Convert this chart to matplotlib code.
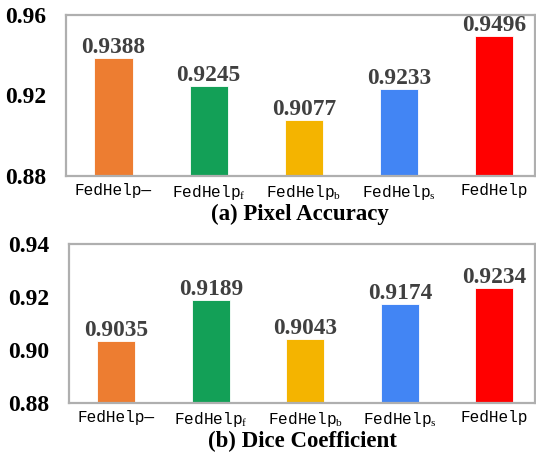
import matplotlib
matplotlib.use("Agg")
import matplotlib.pyplot as plt

plt.rcParams["mathtext.fontset"] = "custom"
plt.rcParams["mathtext.rm"] = "Liberation Serif"

methods = ["FedHelp\u2014", "FedHelp$_{\\mathrm{f}}$", "FedHelp$_{\\mathrm{b}}$",
           "FedHelp$_{\\mathrm{s}}$", "FedHelp"]
colors = ["#ED7D31", "#13A057", "#F4B400", "#4285F4", "#FF0000"]

pixel_acc = [0.9388, 0.9245, 0.9077, 0.9233, 0.9496]
dice = [0.9035, 0.9189, 0.9043, 0.9174, 0.9234]

pa_ticks = [0.88, 0.92, 0.96]
dice_ticks = [0.88, 0.90, 0.92, 0.94]

fig = plt.figure(figsize=(5.36, 4.53), dpi=100)
ax1 = fig.add_axes([0.123, 0.6115, 0.875, 0.3555])
ax2 = fig.add_axes([0.129, 0.110, 0.869, 0.351])

serif = "Liberation Serif"
mono = "Liberation Mono"


def draw(ax, vals, ticks, title):
    x = range(len(vals))
    ax.bar(x, vals, width=0.4, color=colors, edgecolor="white", linewidth=0.6,
           bottom=0, zorder=2)
    for i, v in enumerate(vals):
        ax.text(i, v, "%.4f" % v, ha="center", va="bottom", family=serif,
                fontweight="bold", fontsize=16.8, color="#404040")
    ax.set_ylim(ticks[0], ticks[-1])
    ax.set_xlim(-0.5, 4.43)
    ax.set_yticks(ticks)
    ax.set_yticklabels(["%.2f" % t for t in ticks], family=serif,
                       fontweight="bold", fontsize=17)
    ax.set_xticks(list(x))
    ax.set_xticklabels(methods, family=mono, fontsize=11.6)
    ax.tick_params(axis="both", length=0)
    ax.tick_params(axis="y", pad=14)
    ax.tick_params(axis="x", pad=5)
    for s in ax.spines.values():
        s.set_color("#AFAFAF")
        s.set_linewidth(1.6)
    ax.set_xlabel(title, family=serif, fontweight="bold", fontsize=16.5,
                  labelpad=1)


draw(ax1, pixel_acc, pa_ticks, "(a) Pixel Accuracy")
draw(ax2, dice, dice_ticks, "(b) Dice Coefficient")

fig.savefig("out.png", dpi=100)
